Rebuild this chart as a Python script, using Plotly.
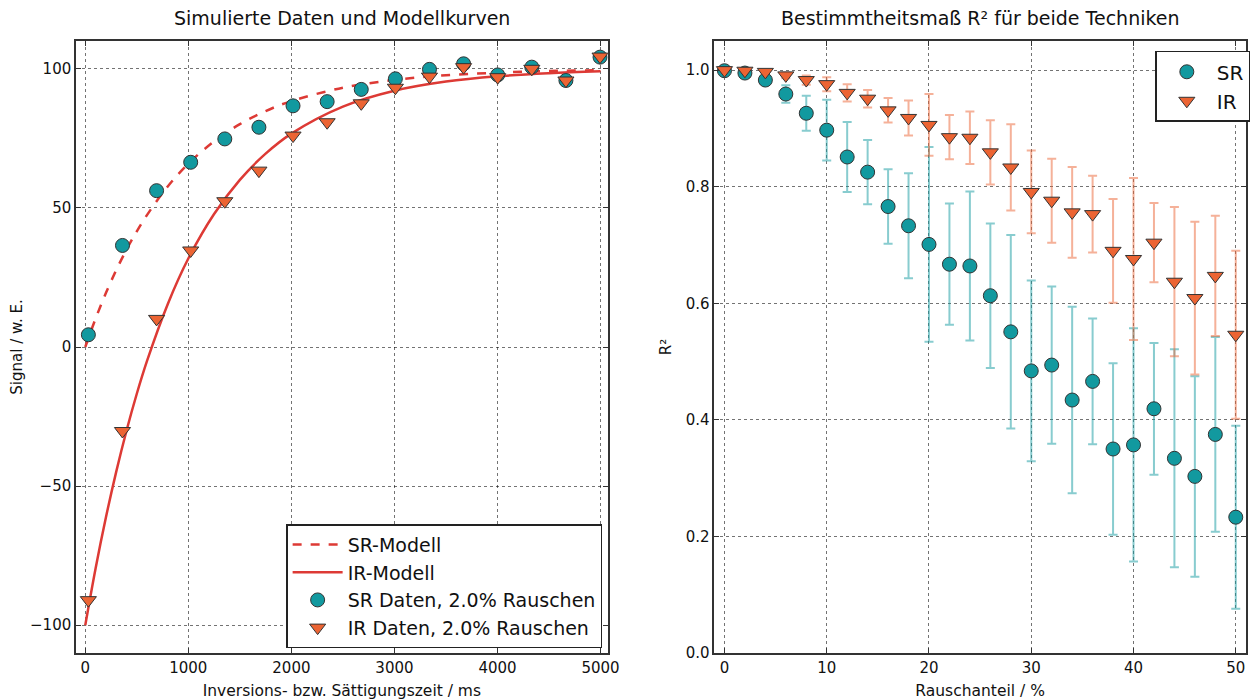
import plotly.graph_objects as go

# ---------------- left panel data ----------------
t_data = [30, 361, 692, 1023, 1354, 1685, 2016, 2347, 2678, 3009, 3340, 3671, 4002, 4333, 4664, 4995]
sr_data = [4.4, 36.5, 56.2, 66.4, 74.8, 79.0, 86.7, 88.2, 92.6, 96.4, 99.8, 101.8, 97.8, 100.6, 95.8, 104.2]
ir_data = [-91.0, -30.2, 10.1, 34.7, 52.4, 63.4, 76.0, 80.8, 87.6, 93.2, 97.2, 100.6, 97.0, 100.0, 95.8, 104.4]

t_model = [0, 100, 200, 300, 400, 500, 600, 800, 1000, 1250, 1500, 1750, 2000, 2500, 3000, 3500, 4000, 4500, 5000]
sr_model = [0, 10.2, 19.4, 27.6, 35.0, 41.6, 47.5, 57.7, 65.9, 73.9, 80.1, 84.8, 88.4, 93.2, 96.0, 97.7, 98.6, 99.2, 99.5]
ir_model = [-100, -79.6, -61.3, -44.9, -30.1, -16.8, -4.9, 15.4, 31.8, 47.8, 60.1, 69.5, 76.7, 86.4, 92.1, 95.4, 97.3, 98.4, 99.1]

# ---------------- right panel data ----------------
noise = [0, 2, 4, 6, 8, 10, 12, 14, 16, 18, 20, 22, 24, 26, 28, 30, 32, 34, 36, 38, 40, 42, 44, 46, 48, 50]
r2_sr = [0.999, 0.995, 0.983, 0.959, 0.926, 0.897, 0.851, 0.825, 0.766, 0.733, 0.701, 0.667, 0.664, 0.613, 0.551,
         0.484, 0.494, 0.434, 0.466, 0.350, 0.357, 0.419, 0.334, 0.303, 0.375, 0.233]
r2_sr_err = [0.002, 0.004, 0.008, 0.015, 0.03, 0.052, 0.06, 0.055, 0.064, 0.09, 0.167, 0.104, 0.128, 0.124, 0.166,
             0.155, 0.135, 0.16, 0.108, 0.147, 0.2, 0.113, 0.187, 0.172, 0.167, 0.157]
r2_ir = [1.0, 0.999, 0.997, 0.991, 0.983, 0.976, 0.961, 0.951, 0.931, 0.918, 0.906, 0.885, 0.884, 0.859, 0.833,
         0.791, 0.776, 0.756, 0.753, 0.690, 0.676, 0.704, 0.637, 0.609, 0.647, 0.546]
r2_ir_err = [0.001, 0.002, 0.003, 0.005, 0.008, 0.012, 0.015, 0.015, 0.021, 0.03, 0.053, 0.038, 0.045, 0.055, 0.074,
             0.071, 0.072, 0.078, 0.066, 0.089, 0.139, 0.068, 0.128, 0.131, 0.103, 0.144]

FONT = "DejaVu Sans"
RED = "#dd3a35"
TEAL = "#12999f"
ORANGE = "#ec6433"
EDGE = "#333333"

fig = go.Figure()

fig.add_trace(go.Scatter(x=t_model, y=sr_model, mode="lines", name="SR-Modell",
                         line=dict(color=RED, width=2.5, dash="dash", shape="spline"),
                         xaxis="x", yaxis="y", legend="legend"))
fig.add_trace(go.Scatter(x=t_model, y=ir_model, mode="lines", name="IR-Modell",
                         line=dict(color=RED, width=2.5, shape="spline"),
                         xaxis="x", yaxis="y", legend="legend"))
fig.add_trace(go.Scatter(x=t_data, y=sr_data, mode="markers", name="SR Daten, 2.0% Rauschen",
                         marker=dict(symbol="circle", size=14, color=TEAL, line=dict(color=EDGE, width=1)),
                         xaxis="x", yaxis="y", legend="legend"))
fig.add_trace(go.Scatter(x=t_data, y=ir_data, mode="markers", name="IR Daten, 2.0% Rauschen",
                         marker=dict(symbol="triangle-down", size=14, color=ORANGE, line=dict(color=EDGE, width=1)),
                         xaxis="x", yaxis="y", legend="legend"))

fig.add_trace(go.Scatter(x=noise, y=r2_sr, mode="markers", name="SR",
                         marker=dict(symbol="circle", size=14, color=TEAL, line=dict(color=EDGE, width=1)),
                         error_y=dict(type="data", array=r2_sr_err, color="rgba(18,153,159,0.5)",
                                      thickness=2, width=4.5),
                         xaxis="x2", yaxis="y2", legend="legend2"))
fig.add_trace(go.Scatter(x=noise, y=r2_ir, mode="markers", name="IR",
                         marker=dict(symbol="triangle-down", size=14, color=ORANGE, line=dict(color=EDGE, width=1)),
                         error_y=dict(type="data", array=r2_ir_err, color="rgba(236,100,51,0.5)",
                                      thickness=2, width=4.5),
                         xaxis="x2", yaxis="y2", legend="legend2"))

axis_common = dict(showline=True, linecolor="#333333", linewidth=1.5, mirror="ticks",
                   ticks="inside", ticklen=5, tickcolor="#333333",
                   showgrid=True, gridcolor="rgba(0,0,0,0.55)", griddash="dot", gridwidth=1,
                   zeroline=False, tickfont=dict(family=FONT, size=15, color="#111111"))

fig.update_layout(
    width=1252, height=692,
    margin=dict(l=64, r=2, t=33, b=47),
    paper_bgcolor="white", plot_bgcolor="white",
    font=dict(family=FONT, color="#111111"),
    xaxis=dict(domain=[0, 0.4545], range=[-90, 5070], tickvals=[0, 1000, 2000, 3000, 4000, 5000],
               title=dict(text="Inversions- bzw. Sättigungszeit / ms", font=dict(size=15.5), standoff=10),
               anchor="y", **axis_common),
    yaxis=dict(domain=[0, 1], range=[-110, 110], tickvals=[-100, -50, 0, 50, 100],
               title=dict(text="Signal / w. E.", font=dict(size=15), standoff=10),
               anchor="x", **axis_common),
    xaxis2=dict(domain=[0.5455, 1], range=[-1, 51], tickvals=[0, 10, 20, 30, 40, 50],
                title=dict(text="Rauschanteil / %", font=dict(size=15.5), standoff=10),
                anchor="y2", **axis_common),
    yaxis2=dict(domain=[0, 1], range=[0, 1.05], tickvals=[0, 0.2, 0.4, 0.6, 0.8, 1.0], tickformat=".1f",
                title=dict(text="R²", font=dict(size=15), standoff=10),
                anchor="x2", **axis_common),
    legend=dict(x=0.1796, y=0.2105, xanchor="left", yanchor="top", itemwidth=50,
                bgcolor="white", bordercolor="#222222", borderwidth=1.5,
                font=dict(family=FONT, size=19)),
    legend2=dict(x=0.9225, y=0.984, xanchor="left", yanchor="top", itemwidth=50,
                 bgcolor="white", bordercolor="#222222", borderwidth=1.5,
                 font=dict(family=FONT, size=20)),
    annotations=[
        dict(text="Simulierte Daten und Modellkurven", x=0.2273, y=1.0376, xref="paper", yref="paper",
             xanchor="center", yanchor="middle", showarrow=False, font=dict(family=FONT, size=19)),
        dict(text="Bestimmtheitsmaß R² für beide Techniken", x=0.7727, y=1.0376, xref="paper", yref="paper",
             xanchor="center", yanchor="middle", showarrow=False, font=dict(family=FONT, size=19)),
    ],
)

fig.write_html("out.html")
